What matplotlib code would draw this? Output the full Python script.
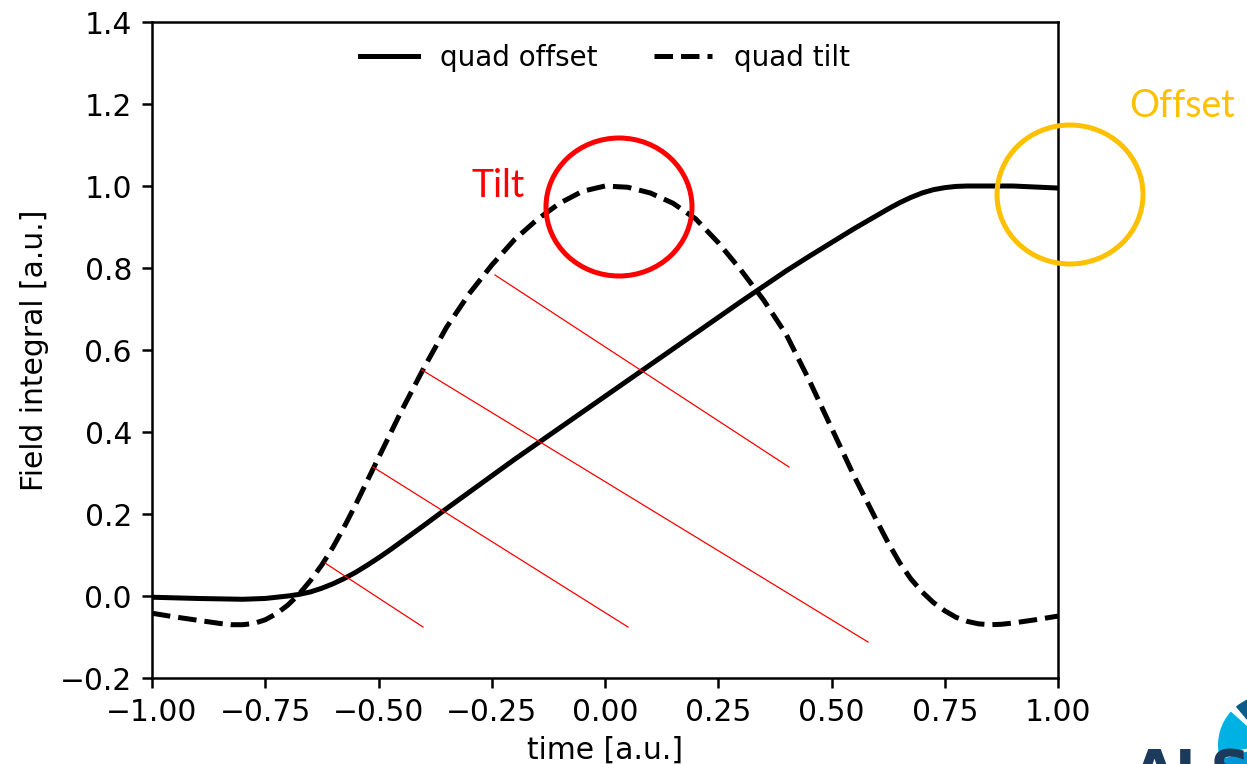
import matplotlib
matplotlib.use("Agg")
import matplotlib.pyplot as plt
from matplotlib.patches import Ellipse, Wedge
from matplotlib.lines import Line2D

# ---- data ----
offset_x = [-1.0, -0.9, -0.8, -0.75, -0.7, -0.675, -0.65, -0.625, -0.6, -0.575, -0.55,
            -0.525, -0.5, -0.475, -0.45, -0.4, -0.35, -0.3, -0.25, -0.2, -0.1, 0.0,
            0.1, 0.2, 0.3, 0.4, 0.45, 0.5, 0.55, 0.6, 0.625, 0.65, 0.675, 0.7, 0.725,
            0.75, 0.775, 0.8, 0.9, 1.0]
offset_y = [-0.003, -0.006, -0.008, -0.006, 0.0, 0.004, 0.01, 0.019, 0.03, 0.043, 0.058,
            0.075, 0.093, 0.112, 0.132, 0.172, 0.213, 0.253, 0.293, 0.333, 0.41, 0.487,
            0.564, 0.641, 0.718, 0.793, 0.828, 0.862, 0.896, 0.928, 0.944, 0.959, 0.972,
            0.983, 0.991, 0.996, 0.999, 1.0, 1.0, 0.995]

tilt_x = [-1.0, -0.95, -0.9, -0.875, -0.85, -0.825, -0.8, -0.775, -0.75, -0.725, -0.7,
          -0.675, -0.65, -0.625, -0.6, -0.575, -0.55, -0.5, -0.45, -0.4, -0.35, -0.3,
          -0.25, -0.2, -0.15, -0.1, -0.05, 0.0, 0.05, 0.1, 0.15, 0.2, 0.25, 0.3, 0.35,
          0.4, 0.45, 0.5, 0.55, 0.6, 0.625, 0.65, 0.675, 0.7, 0.725, 0.75, 0.775, 0.8,
          0.825, 0.85, 0.875, 0.9, 0.95, 1.0]
tilt_y = [-0.042, -0.051, -0.059, -0.063, -0.067, -0.07, -0.07, -0.067, -0.058, -0.043, -0.022,
          0.005, 0.038, 0.076, 0.12, 0.17, 0.224, 0.337, 0.45, 0.556, 0.655, 0.737,
          0.807, 0.869, 0.918, 0.958, 0.987, 1.0, 0.997, 0.983, 0.958, 0.92, 0.862, 0.795, 0.722,
          0.638, 0.528, 0.41, 0.292, 0.183, 0.13, 0.082, 0.042, 0.01, -0.016, -0.036, -0.052, -0.062,
          -0.068, -0.07, -0.069, -0.066, -0.058, -0.049]

series_labels = ["quad offset", "quad tilt"]
x_label = "time [a.u.]"
y_label = "Field integral [a.u.]"
x_ticks = [-1.0, -0.75, -0.5, -0.25, 0.0, 0.25, 0.5, 0.75, 1.0]
y_ticks = [-0.2, 0.0, 0.2, 0.4, 0.6, 0.8, 1.0, 1.2, 1.4]

plt.rcParams.update({
    "font.size": 10.7,
    "axes.linewidth": 0.9,
    "xtick.major.width": 0.9,
    "ytick.major.width": 0.9,
    "xtick.major.size": 3.7,
    "ytick.major.size": 3.7,
})

W, H = 1247, 764
fig = plt.figure(figsize=(W / 200, H / 200), dpi=200)
ax = fig.add_axes([152 / W, 1 - 678 / H, 906 / W, (678 - 22) / H])
ax.plot(offset_x, offset_y, color="black", lw=1.8, ls="-", label=series_labels[0],
        solid_joinstyle="round")
ax.plot(tilt_x, tilt_y, color="black", lw=1.8, ls="--", label=series_labels[1])
ax.set_xlim(-1.0, 1.0)
ax.set_ylim(-0.2, 1.4)
ax.set_xticks(x_ticks)
ax.set_yticks(y_ticks)
ax.set_xticklabels([f"{t:.2f}".replace("-", "\u2212") for t in x_ticks])
ax.set_yticklabels([f"{t:.1f}".replace("-", "\u2212") for t in y_ticks])
ax.set_xlabel(x_label, labelpad=3)
ax.set_ylabel(y_label)
ax.legend(loc="upper center", ncol=2, frameon=False, columnspacing=2.0,
          handlelength=2.1, fontsize=10, borderaxespad=0.4)

# ---- slide annotations (pixel coordinates of the slide) ----
ov = fig.add_axes([0, 0, 1, 1])
ov.set_xlim(0, W)
ov.set_ylim(H, 0)
ov.axis("off")
ov.patch.set_alpha(0)

ov.add_patch(Ellipse((619, 207), 146, 138, fill=False, ec="#FF0000", lw=1.8))
ov.add_patch(Ellipse((1070, 194.5), 146, 139, fill=False, ec="#FFC000", lw=1.8))
ov.text(472, 197, "Tilt", color="#FF0000", fontsize=13.5, family="Lato",
        ha="left", va="baseline")
ov.text(1129, 117, "Offset", color="#FFC000", fontsize=13.5, family="Lato",
        ha="left", va="baseline")

red_lines = [((325, 563), (423, 627)), ((373, 467), (628, 627)),
             ((422, 370), (868, 642)), ((495, 275), (789, 467))]
for (x0, y0), (x1, y1) in red_lines:
    ov.add_line(Line2D([x0, x1], [y0, y1], color="#FF0000", lw=0.45))

# partial ALS logo at the bottom-right corner
ov.add_patch(Wedge((1268, 745), 50, 230, 265, fc="#0B5C8A", ec="none"))
ov.add_patch(Wedge((1268, 745), 50, 170, 222, fc="#00B2E3", ec="none"))
ov.add_patch(Wedge((1268, 745), 50, 110, 163, fc="#0096D6", ec="none"))
ov.text(1133, 747, "ALS", color="#1B3A5C", fontsize=20, fontweight="bold",
        family="DejaVu Sans", ha="left", va="top")

fig.savefig("out.png", dpi=200)
